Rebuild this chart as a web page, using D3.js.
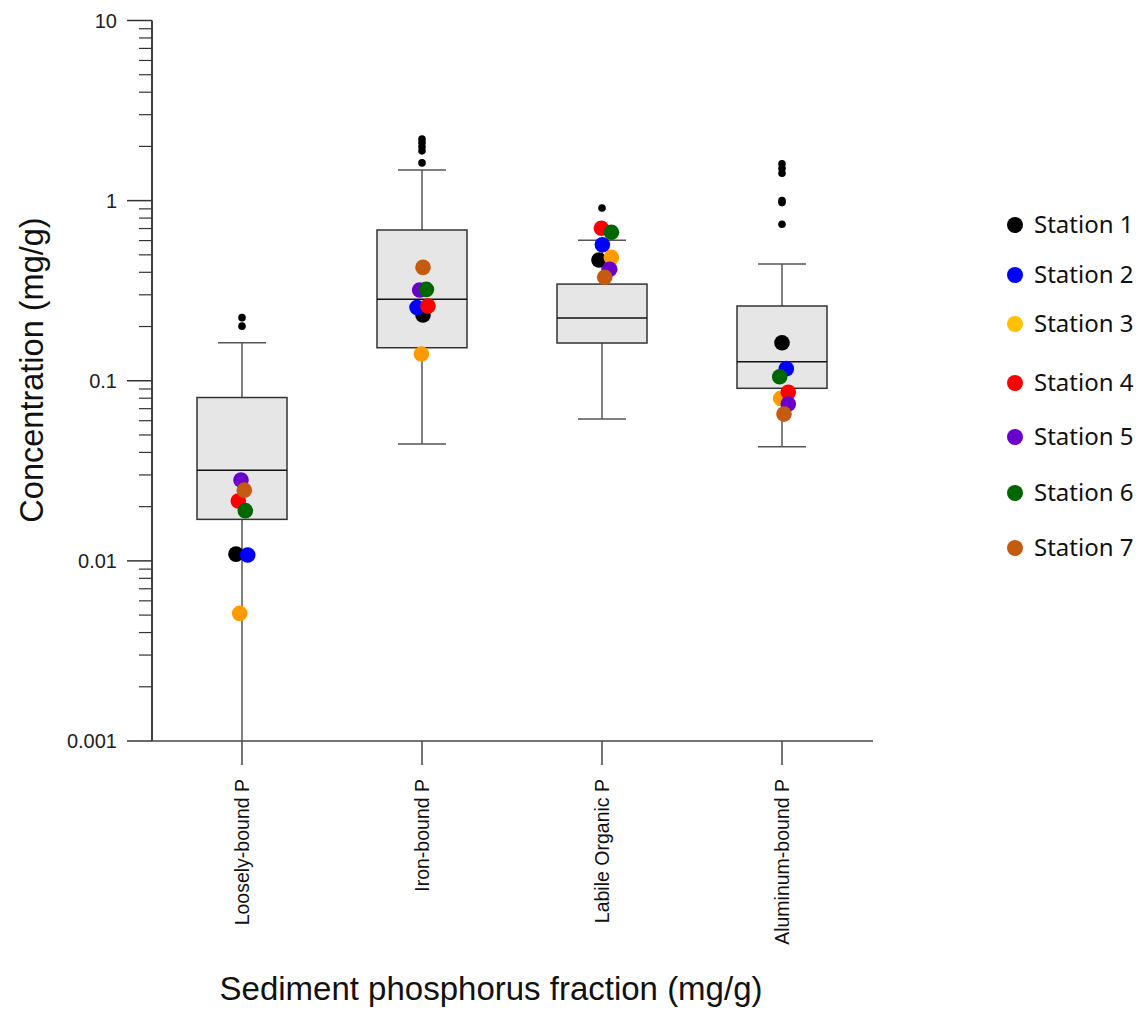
<!DOCTYPE html>
<html>
<head>
<meta charset="utf-8">
<script src="https://cdn.jsdelivr.net/npm/d3@7/dist/d3.min.js"></script>
<style>
  body { margin: 0; background: #fff; }
  svg { display: block; }
</style>
</head>
<body>
<svg id="chart" width="1140" height="1018"></svg>
<script>
"use strict";

// Categories (x axis)
var categories = ["Loosely-bound P", "Iron-bound P", "Labile Organic P", "Aluminum-bound P"];

// Box statistics per category: lower whisker, Q1, median, Q3, upper whisker
var whiskerLow = [0.0009, 0.0445, 0.0613, 0.0430];
var q1 = [0.0170, 0.1525, 0.162, 0.0908];
var median = [0.0319, 0.283, 0.223, 0.1276];
var q3 = [0.0807, 0.687, 0.344, 0.260];
var whiskerHigh = [0.1625, 1.48, 0.602, 0.445];

// Outliers per category
var outliers = [
  [0.224, 0.201],
  [2.20, 2.10, 1.99, 1.89, 1.62],
  [0.91],
  [1.60, 1.51, 1.42, 1.00, 0.975, 0.739]
];

// Station values per category (station 1 .. 7)
var stations = ["Station 1", "Station 2", "Station 3", "Station 4", "Station 5", "Station 6", "Station 7"];
var stationValues = [
  [0.0109, 0.01077, 0.00511, 0.0215, 0.0281, 0.0190, 0.0247],
  [0.232, 0.255, 0.1407, 0.260, 0.319, 0.3215, 0.426],
  [0.468, 0.569, 0.484, 0.702, 0.4155, 0.667, 0.375],
  [0.1626, 0.1167, 0.0798, 0.0863, 0.0743, 0.1052, 0.0653]
];

var yTicks = [10, 1, 0.1, 0.01, 0.001];

// Layout / styling (not data)
var stationColors = ["#000000", "#0000ff", "#ff9a00", "#ff0000", "#6a00cc", "#006600", "#c55a11"];
var legendColors = ["#000000", "#0000ff", "#ffc000", "#ff0000", "#6a00cc", "#006600", "#c55a11"];
var jitter = [
  [-6, 5.7, -2.3, -3.7, -1, 3.3, 2.3],
  [1, -5, -0.6, 6, -2.3, 4.4, 1],
  [-3, 0.4, 9.4, -0.6, 7.7, 9.4, 2.7],
  [0, 4.3, -1.3, 6.3, 6.3, -2.3, 2]
];
var legendY = [225, 275, 324, 383, 437, 493, 548];

var svg = d3.select("#chart");
var plotLeft = 152, plotRight = 872, plotTop = 20.5, plotBottom = 741;

var x = d3.scaleBand().domain(categories).range([plotLeft, plotRight]).padding(0);
var y = d3.scaleLog().domain([0.001, 10]).range([plotBottom, plotTop]);
var boxW = x.bandwidth() * 0.5;
var capW = 48;

svg.append("defs").append("clipPath").attr("id", "plotClip")
  .append("rect").attr("x", plotLeft).attr("y", plotTop).attr("width", 900).attr("height", plotBottom - plotTop);

// Y axis
var minorTicks = [];
[0.001, 0.01, 0.1, 1].forEach(function (dec) {
  for (var k = 2; k <= 9; k++) minorTicks.push(dec * k);
});
var yAxis = svg.append("g").attr("class", "y-axis");
yAxis.append("line").attr("x1", plotLeft).attr("x2", plotLeft).attr("y1", plotTop).attr("y2", plotBottom)
  .style("stroke", "#000").style("stroke-width", 1.5);
yAxis.selectAll(".minor").data(minorTicks).enter().append("line").attr("class", "minor")
  .attr("x1", plotLeft - 13).attr("x2", plotLeft)
  .attr("y1", function (d) { return y(d); }).attr("y2", function (d) { return y(d); })
  .style("stroke", "#333").style("stroke-width", 1.2);
yAxis.selectAll(".major").data(yTicks).enter().append("line").attr("class", "major")
  .attr("x1", plotLeft - 25).attr("x2", plotLeft)
  .attr("y1", function (d) { return y(d); }).attr("y2", function (d) { return y(d); })
  .style("stroke", "#333").style("stroke-width", 1.5);
yAxis.selectAll(".lbl").data(yTicks).enter().append("text").attr("class", "lbl")
  .attr("x", plotLeft - 35).attr("y", function (d) { return y(d); }).attr("dy", "0.36em")
  .attr("text-anchor", "end")
  .style("font-family", "'Liberation Sans', Arial, sans-serif").style("font-size", "20px").style("fill", "#222")
  .text(function (d) { return String(d); });

// X axis
var xAxis = svg.append("g").attr("class", "x-axis");
xAxis.append("line").attr("x1", plotLeft).attr("x2", plotRight + 1).attr("y1", plotBottom).attr("y2", plotBottom)
  .style("stroke", "#444").style("stroke-width", 1.5);
xAxis.selectAll(".tick").data(categories).enter().append("line").attr("class", "tick")
  .attr("x1", function (d) { return x(d) + x.bandwidth() / 2; })
  .attr("x2", function (d) { return x(d) + x.bandwidth() / 2; })
  .attr("y1", plotBottom).attr("y2", plotBottom + 24)
  .style("stroke", "#444").style("stroke-width", 1.5);
xAxis.selectAll(".lbl").data(categories).enter().append("text").attr("class", "lbl")
  .attr("transform", function (d) {
    return "translate(" + (x(d) + x.bandwidth() / 2) + "," + (plotBottom + 38) + ")rotate(-90)";
  })
  .attr("dy", "0.35em").attr("text-anchor", "end")
  .style("font-family", "'Liberation Sans', Arial, sans-serif").style("font-size", "19.5px").style("fill", "#111")
  .text(function (d) { return d; });

// Boxes
var plot = svg.append("g").attr("clip-path", "url(#plotClip)");
var groups = plot.selectAll(".box").data(categories).enter().append("g").attr("class", "box")
  .attr("transform", function (d) { return "translate(" + (x(d) + x.bandwidth() / 2) + ",0)"; });

groups.each(function (d, i) {
  var g = d3.select(this);
  // whiskers
  g.append("line").attr("x1", 0).attr("x2", 0).attr("y1", y(q3[i])).attr("y2", y(whiskerHigh[i]))
    .style("stroke", "#555").style("stroke-width", 1.5);
  g.append("line").attr("x1", 0).attr("x2", 0).attr("y1", y(q1[i])).attr("y2", y(whiskerLow[i]))
    .style("stroke", "#555").style("stroke-width", 1.5);
  g.append("line").attr("x1", -capW / 2).attr("x2", capW / 2).attr("y1", y(whiskerHigh[i])).attr("y2", y(whiskerHigh[i]))
    .style("stroke", "#555").style("stroke-width", 1.5);
  if (whiskerLow[i] >= 0.001) {
    g.append("line").attr("x1", -capW / 2).attr("x2", capW / 2).attr("y1", y(whiskerLow[i])).attr("y2", y(whiskerLow[i]))
      .style("stroke", "#555").style("stroke-width", 1.5);
  }
  // box
  g.append("rect").attr("x", -boxW / 2).attr("width", boxW)
    .attr("y", y(q3[i])).attr("height", y(q1[i]) - y(q3[i]))
    .style("fill", "#e6e6e6").style("stroke", "#333").style("stroke-width", 1.5);
  g.append("line").attr("x1", -boxW / 2).attr("x2", boxW / 2).attr("y1", y(median[i])).attr("y2", y(median[i]))
    .style("stroke", "#111").style("stroke-width", 1.5);
  // outliers
  g.selectAll(".out").data(outliers[i]).enter().append("circle").attr("class", "out")
    .attr("cx", 0).attr("cy", function (v) { return y(v); }).attr("r", 3.8)
    .style("fill", "#000");
  // stations
  g.selectAll(".st").data(stationValues[i]).enter().append("circle").attr("class", "st")
    .attr("cx", function (v, j) { return jitter[i][j]; })
    .attr("cy", function (v) { return y(v); }).attr("r", 7.8)
    .style("fill", function (v, j) { return stationColors[j]; });
});

// Axis titles
svg.append("text").attr("transform", "translate(43,370)rotate(-90)").attr("text-anchor", "middle")
  .style("font-family", "'Liberation Sans', Arial, sans-serif").style("font-size", "32.5px").style("fill", "#111")
  .text("Concentration (mg/g)");
svg.append("text").attr("x", 491).attr("y", 1000).attr("text-anchor", "middle")
  .style("font-family", "'Liberation Sans', Arial, sans-serif").style("font-size", "33px").style("fill", "#111")
  .text("Sediment phosphorus fraction (mg/g)");

// Legend
var legend = svg.selectAll(".legend").data(stations).enter().append("g").attr("class", "legend")
  .attr("transform", function (d, i) { return "translate(1015," + legendY[i] + ")"; });
legend.append("circle").attr("r", 8).style("fill", function (d, i) { return legendColors[i]; });
legend.append("text").attr("x", 19).attr("dy", "0.35em")
  .style("font-family", "'Noto Sans', 'Open Sans', sans-serif").style("font-size", "24px").style("fill", "#111")
  .text(function (d) { return d; });
</script>
</body>
</html>
